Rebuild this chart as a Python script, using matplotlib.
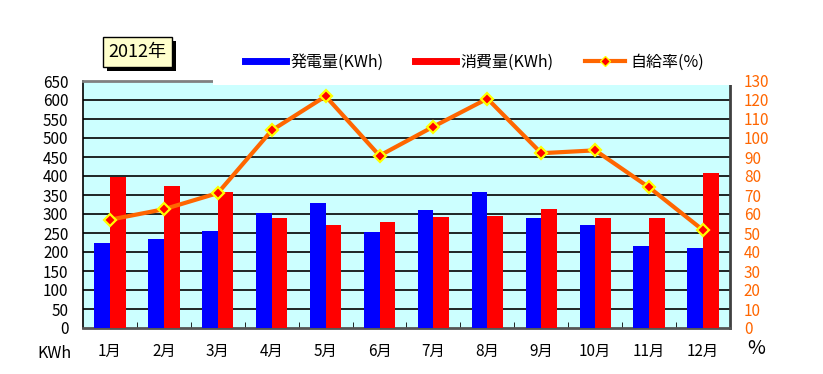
import matplotlib
matplotlib.use("Agg")
import matplotlib.pyplot as plt
from matplotlib.lines import Line2D
from matplotlib.patches import Rectangle
import numpy as np

plt.rcParams['font.family'] = ['Noto Sans CJK JP', 'DejaVu Sans']

months = ['1月', '2月', '3月', '4月', '5月', '6月', '7月', '8月', '9月', '10月', '11月', '12月']
generation = [225, 233, 254, 302, 328, 252, 310, 357, 289, 270, 215, 210]
consumption = [397, 373, 357, 289, 270, 278, 291, 296, 313, 289, 289, 407]
ratio = [57, 62.5, 71, 104, 122, 90.7, 106, 120.7, 92, 93.5, 74, 51.5]
left_ticks = list(range(0, 651, 50))
right_ticks = list(range(0, 131, 10))

W, H = 823, 374
fig = plt.figure(figsize=(W / 100, H / 100), dpi=100)
fig.patch.set_facecolor('white')

x0, x1, ytop, ybot = 83, 730, 81, 328
ax = fig.add_axes([x0 / W, 1 - ybot / H, (x1 - x0) / W, (ybot - ytop) / H])
ax.set_facecolor('#CCFFFF')

x = np.arange(len(months))
bw = 0.29
ax.bar(x - bw / 2, generation, width=bw, color='#0000FF', zorder=3)
ax.bar(x + bw / 2, consumption, width=bw, color='#FF0000', zorder=3)

ax.set_xlim(-0.5, len(months) - 0.5)
ax.set_ylim(0, 650)
ax.set_yticks(left_ticks)
ax.set_yticklabels([str(v) for v in left_ticks], fontsize=11)
for v in left_ticks[1:-1]:
    ax.axhline(v, color='black', lw=1.2, zorder=2)
ax.set_xticks(x)
ax.set_xticklabels(months, fontsize=11)
ax.set_xticks(np.arange(0.5, len(months) - 1, 1), minor=True)
ax.tick_params(axis='x', which='major', length=0, pad=11)
ax.tick_params(axis='x', which='minor', direction='in', length=4, color='black')
ax.tick_params(axis='y', length=0, pad=10.5)

ax.spines['top'].set_visible(False)
ax.spines['left'].set_color('black')
ax.spines['left'].set_linewidth(1.2)
ax.spines['bottom'].set_color('#555555')
ax.spines['bottom'].set_linewidth(2)
ax.spines['right'].set_color('#404040')
ax.spines['right'].set_linewidth(2)
ax.plot([0, (213 - x0) / (x1 - x0)], [1, 1], transform=ax.transAxes,
        color='#808080', lw=2, clip_on=False, zorder=5)

ax2 = ax.twinx()
ax2.set_ylim(0, 130)
ax2.set_yticks(right_ticks)
ax2.set_yticklabels([str(v) for v in right_ticks], fontsize=11, color='#FF6600')
ax2.tick_params(axis='y', length=0, pad=10)
for s in ax2.spines.values():
    s.set_visible(False)
ax2.plot(x, ratio, color='#FF6600', lw=3, marker='D', ms=6.5,
         markerfacecolor='#FF0000', markeredgecolor='#FFFF00', markeredgewidth=1.6, zorder=4)

# white legend band covering top of plot
fig.add_artist(Rectangle((213 / W, 1 - 85 / H), (733 - 213) / W, 50 / H,
                         transform=fig.transFigure, facecolor='white',
                         edgecolor='none', zorder=5))

handles = [
    Line2D([], [], color='#0000FF', lw=5),
    Line2D([], [], color='#FF0000', lw=5),
    Line2D([], [], color='#FF6600', lw=3, marker='D', ms=5,
           markerfacecolor='#FF0000', markeredgecolor='#FFFF00', markeredgewidth=1),
]
labels = ['発電量(KWh)', '消費量(KWh)', '自給率(%)']
leg = fig.legend(handles, labels, loc='center left', ncol=3, frameon=False,
                 bbox_to_anchor=(245 / W, 1 - 62 / H), fontsize=11.5,
                 handlelength=2.55, handletextpad=0.3, columnspacing=1.95,
                 borderpad=0, borderaxespad=0)
leg.set_zorder(6)

# title box with shadow
fig.add_artist(Rectangle((107 / W, 1 - 71 / H), 69 / W, 30 / H,
                         transform=fig.transFigure, facecolor='black',
                         edgecolor='none', zorder=6))
fig.add_artist(Rectangle((103 / W, 1 - 67 / H), 69 / W, 30 / H,
                         transform=fig.transFigure, facecolor='#FFFFCC',
                         edgecolor='black', lw=1, zorder=7))
fig.text(137.5 / W, 1 - 52 / H, '2012年', ha='center', va='center', fontsize=13, zorder=8)

fig.text(54 / W, 1 - 353 / H, 'KWh', ha='center', va='center', fontsize=11.5)
fig.text(756 / W, 1 - 348 / H, '%', ha='center', va='center', fontsize=14)

fig.savefig('out.png', dpi=100, facecolor='white')
